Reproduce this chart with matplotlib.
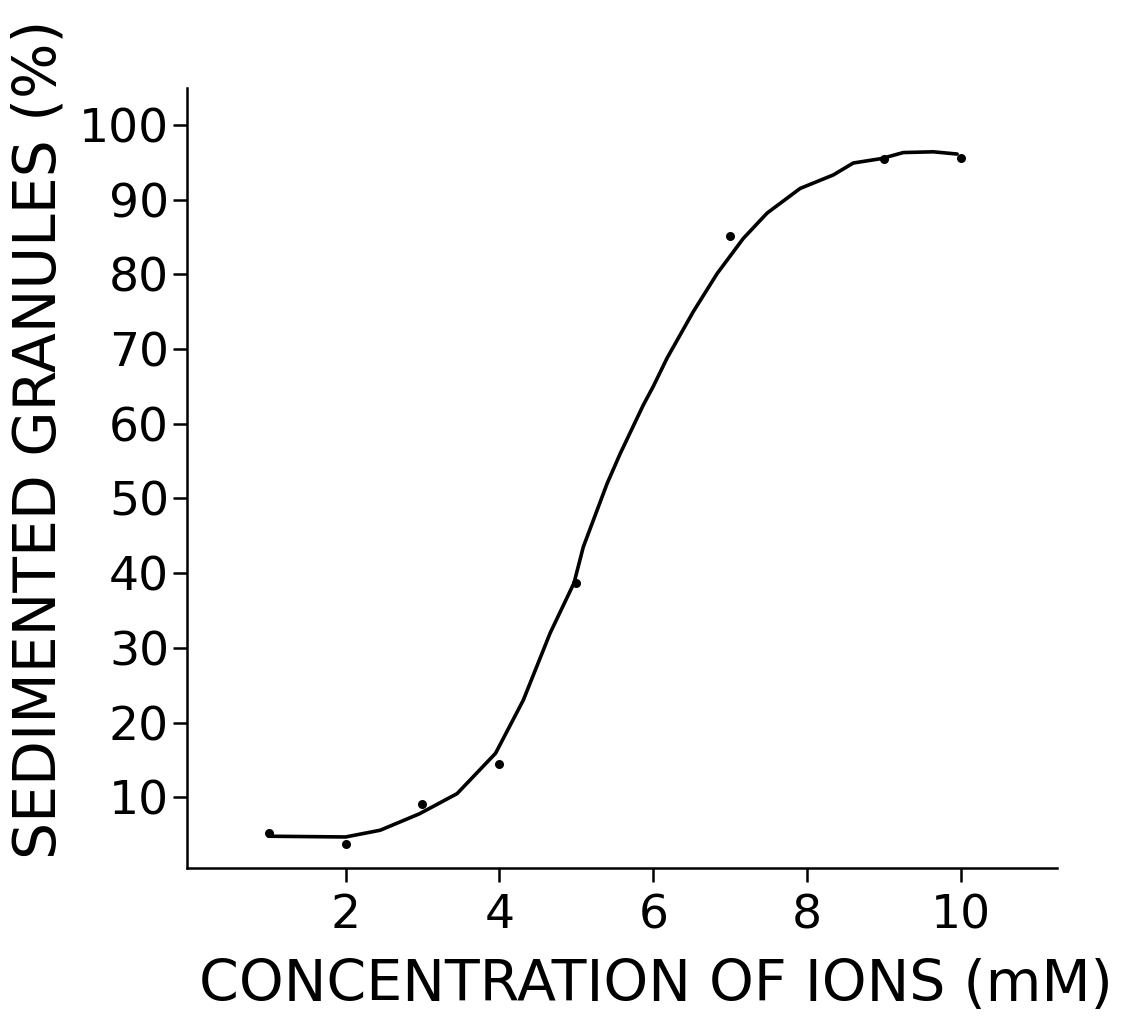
import matplotlib.pyplot as plt

# measured points
conc = [1, 2, 3, 4, 5, 7, 9, 10]
sedimented = [5.2, 3.8, 9.1, 14.4, 38.7, 85.1, 95.5, 95.6]

# hand-drawn curve
curve_x = [1.0, 2.0, 2.45, 2.96, 3.45, 3.95, 4.31, 4.66, 4.97, 5.09, 5.40, 5.57, 5.87,
           6.0, 6.18, 6.52, 6.83, 7.17, 7.48, 7.91, 8.34, 8.6, 8.97, 9.25, 9.64, 9.95]
curve_y = [4.8, 4.7, 5.6, 7.8, 10.5, 15.9, 23.0, 32.0, 38.7, 43.5, 52.0, 56.0, 62.5,
           65.0, 68.8, 75.0, 80.1, 84.8, 88.2, 91.5, 93.3, 94.9, 95.5, 96.3, 96.4, 96.1]

xticks = [2, 4, 6, 8, 10]
yticks = [10, 20, 30, 40, 50, 60, 70, 80, 90, 100]

plt.rcParams['font.family'] = ['DejaVu Sans']

fig = plt.figure(figsize=(11.27, 10.18), dpi=100)
ax = fig.add_axes([0.166, 0.147, 0.772, 0.767])

ax.plot(curve_x, curve_y, color='black', lw=2.6, solid_capstyle='round', solid_joinstyle='round')
ax.scatter(conc, sedimented, s=30, color='black', zorder=3)

ax.set_xlim(-0.06, 11.25)
ax.set_ylim(0.5, 105)
ax.set_xticks(xticks)
ax.set_yticks(yticks)
ax.tick_params(axis='both', direction='out', length=10, width=1.8, labelsize=34, pad=3)
ax.tick_params(axis='x', pad=8)

for s in ['top', 'right']:
    ax.spines[s].set_visible(False)
for s in ['left', 'bottom']:
    ax.spines[s].set_linewidth(1.8)

ax.set_xlabel('CONCENTRATION OF IONS (mM)', fontsize=41, labelpad=14)
ax.set_ylabel('SEDIMENTED GRANULES (%)', fontsize=42, labelpad=8)
ax.xaxis.label.set_x(0.539)
ax.yaxis.label.set_y(0.549)

fig.savefig('out.png', dpi=100)
